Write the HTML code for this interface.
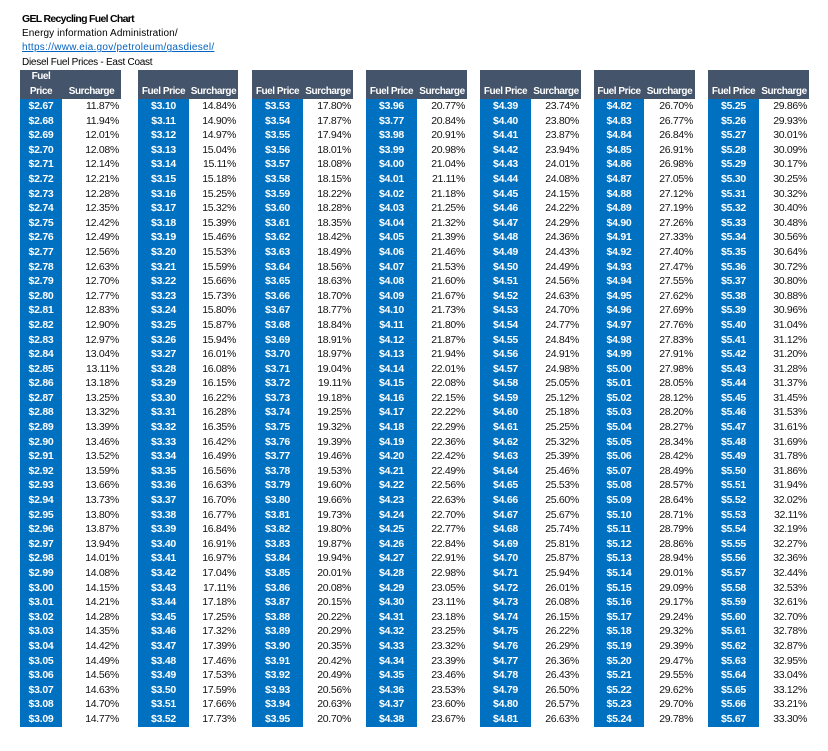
<!DOCTYPE html>
<html><head><meta charset="utf-8"><style>
*{margin:0;padding:0;box-sizing:border-box}
html,body{width:828px;height:751px;background:#fff;overflow:hidden}
body{position:relative;font-family:"Liberation Sans",sans-serif;color:#000}
.t{position:absolute;left:22px;top:12px;font-size:10px;line-height:14.6px;white-space:nowrap}
.t b{letter-spacing:-0.7px;display:block;font-size:10.5px}
.t a{color:#0563C1;text-decoration:underline;letter-spacing:0.28px;display:block}
.blk{position:absolute;top:70px}
.col{position:absolute;top:0}
.hd{height:29px;background:#44546A;color:#fff;font-weight:bold;font-size:10px;line-height:14.5px;text-align:center;letter-spacing:-0.45px;white-space:nowrap}
.p{background:#0070C0;color:#fff;font-weight:bold;font-size:10.5px;letter-spacing:-0.25px;line-height:14.6px;text-align:center;white-space:nowrap}
.s{color:#111;font-size:10.5px;letter-spacing:-0.3px;line-height:14.6px;text-align:right;padding-right:2px;white-space:nowrap}
</style></head><body>
<div class="t"><b>GEL Recycling Fuel Chart</b><div style="letter-spacing:0.1px">Energy information Administration/</div><a>https://www.eia.gov/petroleum/gasdiesel/</a><div style="letter-spacing:-0.26px">Diesel Fuel Prices - East Coast</div></div>

<div class="blk" style="left:20px">
<div class="col" style="left:0;width:42px"><div class="hd">Fuel<br>Price</div><div class="p">$2.67<br>$2.68<br>$2.69<br>$2.70<br>$2.71<br>$2.72<br>$2.73<br>$2.74<br>$2.75<br>$2.76<br>$2.77<br>$2.78<br>$2.79<br>$2.80<br>$2.81<br>$2.82<br>$2.83<br>$2.84<br>$2.85<br>$2.86<br>$2.87<br>$2.88<br>$2.89<br>$2.90<br>$2.91<br>$2.92<br>$2.93<br>$2.94<br>$2.95<br>$2.96<br>$2.97<br>$2.98<br>$2.99<br>$3.00<br>$3.01<br>$3.02<br>$3.03<br>$3.04<br>$3.05<br>$3.06<br>$3.07<br>$3.08<br>$3.09</div></div>
<div class="col" style="left:42px;width:59px"><div class="hd">&nbsp;<br>Surcharge</div><div class="s">11.87%<br>11.94%<br>12.01%<br>12.08%<br>12.14%<br>12.21%<br>12.28%<br>12.35%<br>12.42%<br>12.49%<br>12.56%<br>12.63%<br>12.70%<br>12.77%<br>12.83%<br>12.90%<br>12.97%<br>13.04%<br>13.11%<br>13.18%<br>13.25%<br>13.32%<br>13.39%<br>13.46%<br>13.52%<br>13.59%<br>13.66%<br>13.73%<br>13.80%<br>13.87%<br>13.94%<br>14.01%<br>14.08%<br>14.15%<br>14.21%<br>14.28%<br>14.35%<br>14.42%<br>14.49%<br>14.56%<br>14.63%<br>14.70%<br>14.77%</div></div>
</div>

<div class="blk" style="left:138px">
<div class="col" style="left:0;width:51px"><div class="hd">&nbsp;<br>Fuel Price</div><div class="p">$3.10<br>$3.11<br>$3.12<br>$3.13<br>$3.14<br>$3.15<br>$3.16<br>$3.17<br>$3.18<br>$3.19<br>$3.20<br>$3.21<br>$3.22<br>$3.23<br>$3.24<br>$3.25<br>$3.26<br>$3.27<br>$3.28<br>$3.29<br>$3.30<br>$3.31<br>$3.32<br>$3.33<br>$3.34<br>$3.35<br>$3.36<br>$3.37<br>$3.38<br>$3.39<br>$3.40<br>$3.41<br>$3.42<br>$3.43<br>$3.44<br>$3.45<br>$3.46<br>$3.47<br>$3.48<br>$3.49<br>$3.50<br>$3.51<br>$3.52</div></div>
<div class="col" style="left:51px;width:49px"><div class="hd">&nbsp;<br>Surcharge</div><div class="s">14.84%<br>14.90%<br>14.97%<br>15.04%<br>15.11%<br>15.18%<br>15.25%<br>15.32%<br>15.39%<br>15.46%<br>15.53%<br>15.59%<br>15.66%<br>15.73%<br>15.80%<br>15.87%<br>15.94%<br>16.01%<br>16.08%<br>16.15%<br>16.22%<br>16.28%<br>16.35%<br>16.42%<br>16.49%<br>16.56%<br>16.63%<br>16.70%<br>16.77%<br>16.84%<br>16.91%<br>16.97%<br>17.04%<br>17.11%<br>17.18%<br>17.25%<br>17.32%<br>17.39%<br>17.46%<br>17.53%<br>17.59%<br>17.66%<br>17.73%</div></div>
</div>

<div class="blk" style="left:252px">
<div class="col" style="left:0;width:51px"><div class="hd">&nbsp;<br>Fuel Price</div><div class="p">$3.53<br>$3.54<br>$3.55<br>$3.56<br>$3.57<br>$3.58<br>$3.59<br>$3.60<br>$3.61<br>$3.62<br>$3.63<br>$3.64<br>$3.65<br>$3.66<br>$3.67<br>$3.68<br>$3.69<br>$3.70<br>$3.71<br>$3.72<br>$3.73<br>$3.74<br>$3.75<br>$3.76<br>$3.77<br>$3.78<br>$3.79<br>$3.80<br>$3.81<br>$3.82<br>$3.83<br>$3.84<br>$3.85<br>$3.86<br>$3.87<br>$3.88<br>$3.89<br>$3.90<br>$3.91<br>$3.92<br>$3.93<br>$3.94<br>$3.95</div></div>
<div class="col" style="left:51px;width:50px"><div class="hd">&nbsp;<br>Surcharge</div><div class="s">17.80%<br>17.87%<br>17.94%<br>18.01%<br>18.08%<br>18.15%<br>18.22%<br>18.28%<br>18.35%<br>18.42%<br>18.49%<br>18.56%<br>18.63%<br>18.70%<br>18.77%<br>18.84%<br>18.91%<br>18.97%<br>19.04%<br>19.11%<br>19.18%<br>19.25%<br>19.32%<br>19.39%<br>19.46%<br>19.53%<br>19.60%<br>19.66%<br>19.73%<br>19.80%<br>19.87%<br>19.94%<br>20.01%<br>20.08%<br>20.15%<br>20.22%<br>20.29%<br>20.35%<br>20.42%<br>20.49%<br>20.56%<br>20.63%<br>20.70%</div></div>
</div>

<div class="blk" style="left:366px">
<div class="col" style="left:0;width:51px"><div class="hd">&nbsp;<br>Fuel Price</div><div class="p">$3.96<br>$3.77<br>$3.98<br>$3.99<br>$4.00<br>$4.01<br>$4.02<br>$4.03<br>$4.04<br>$4.05<br>$4.06<br>$4.07<br>$4.08<br>$4.09<br>$4.10<br>$4.11<br>$4.12<br>$4.13<br>$4.14<br>$4.15<br>$4.16<br>$4.17<br>$4.18<br>$4.19<br>$4.20<br>$4.21<br>$4.22<br>$4.23<br>$4.24<br>$4.25<br>$4.26<br>$4.27<br>$4.28<br>$4.29<br>$4.30<br>$4.31<br>$4.32<br>$4.33<br>$4.34<br>$4.35<br>$4.36<br>$4.37<br>$4.38</div></div>
<div class="col" style="left:51px;width:50px"><div class="hd">&nbsp;<br>Surcharge</div><div class="s">20.77%<br>20.84%<br>20.91%<br>20.98%<br>21.04%<br>21.11%<br>21.18%<br>21.25%<br>21.32%<br>21.39%<br>21.46%<br>21.53%<br>21.60%<br>21.67%<br>21.73%<br>21.80%<br>21.87%<br>21.94%<br>22.01%<br>22.08%<br>22.15%<br>22.22%<br>22.29%<br>22.36%<br>22.42%<br>22.49%<br>22.56%<br>22.63%<br>22.70%<br>22.77%<br>22.84%<br>22.91%<br>22.98%<br>23.05%<br>23.11%<br>23.18%<br>23.25%<br>23.32%<br>23.39%<br>23.46%<br>23.53%<br>23.60%<br>23.67%</div></div>
</div>

<div class="blk" style="left:480px">
<div class="col" style="left:0;width:51px"><div class="hd">&nbsp;<br>Fuel Price</div><div class="p">$4.39<br>$4.40<br>$4.41<br>$4.42<br>$4.43<br>$4.44<br>$4.45<br>$4.46<br>$4.47<br>$4.48<br>$4.49<br>$4.50<br>$4.51<br>$4.52<br>$4.53<br>$4.54<br>$4.55<br>$4.56<br>$4.57<br>$4.58<br>$4.59<br>$4.60<br>$4.61<br>$4.62<br>$4.63<br>$4.64<br>$4.65<br>$4.66<br>$4.67<br>$4.68<br>$4.69<br>$4.70<br>$4.71<br>$4.72<br>$4.73<br>$4.74<br>$4.75<br>$4.76<br>$4.77<br>$4.78<br>$4.79<br>$4.80<br>$4.81</div></div>
<div class="col" style="left:51px;width:50px"><div class="hd">&nbsp;<br>Surcharge</div><div class="s">23.74%<br>23.80%<br>23.87%<br>23.94%<br>24.01%<br>24.08%<br>24.15%<br>24.22%<br>24.29%<br>24.36%<br>24.43%<br>24.49%<br>24.56%<br>24.63%<br>24.70%<br>24.77%<br>24.84%<br>24.91%<br>24.98%<br>25.05%<br>25.12%<br>25.18%<br>25.25%<br>25.32%<br>25.39%<br>25.46%<br>25.53%<br>25.60%<br>25.67%<br>25.74%<br>25.81%<br>25.87%<br>25.94%<br>26.01%<br>26.08%<br>26.15%<br>26.22%<br>26.29%<br>26.36%<br>26.43%<br>26.50%<br>26.57%<br>26.63%</div></div>
</div>

<div class="blk" style="left:594px">
<div class="col" style="left:0;width:50px"><div class="hd">&nbsp;<br>Fuel Price</div><div class="p">$4.82<br>$4.83<br>$4.84<br>$4.85<br>$4.86<br>$4.87<br>$4.88<br>$4.89<br>$4.90<br>$4.91<br>$4.92<br>$4.93<br>$4.94<br>$4.95<br>$4.96<br>$4.97<br>$4.98<br>$4.99<br>$5.00<br>$5.01<br>$5.02<br>$5.03<br>$5.04<br>$5.05<br>$5.06<br>$5.07<br>$5.08<br>$5.09<br>$5.10<br>$5.11<br>$5.12<br>$5.13<br>$5.14<br>$5.15<br>$5.16<br>$5.17<br>$5.18<br>$5.19<br>$5.20<br>$5.21<br>$5.22<br>$5.23<br>$5.24</div></div>
<div class="col" style="left:50px;width:51px"><div class="hd">&nbsp;<br>Surcharge</div><div class="s">26.70%<br>26.77%<br>26.84%<br>26.91%<br>26.98%<br>27.05%<br>27.12%<br>27.19%<br>27.26%<br>27.33%<br>27.40%<br>27.47%<br>27.55%<br>27.62%<br>27.69%<br>27.76%<br>27.83%<br>27.91%<br>27.98%<br>28.05%<br>28.12%<br>28.20%<br>28.27%<br>28.34%<br>28.42%<br>28.49%<br>28.57%<br>28.64%<br>28.71%<br>28.79%<br>28.86%<br>28.94%<br>29.01%<br>29.09%<br>29.17%<br>29.24%<br>29.32%<br>29.39%<br>29.47%<br>29.55%<br>29.62%<br>29.70%<br>29.78%</div></div>
</div>

<div class="blk" style="left:708px">
<div class="col" style="left:0;width:51px"><div class="hd">&nbsp;<br>Fuel Price</div><div class="p">$5.25<br>$5.26<br>$5.27<br>$5.28<br>$5.29<br>$5.30<br>$5.31<br>$5.32<br>$5.33<br>$5.34<br>$5.35<br>$5.36<br>$5.37<br>$5.38<br>$5.39<br>$5.40<br>$5.41<br>$5.42<br>$5.43<br>$5.44<br>$5.45<br>$5.46<br>$5.47<br>$5.48<br>$5.49<br>$5.50<br>$5.51<br>$5.52<br>$5.53<br>$5.54<br>$5.55<br>$5.56<br>$5.57<br>$5.58<br>$5.59<br>$5.60<br>$5.61<br>$5.62<br>$5.63<br>$5.64<br>$5.65<br>$5.66<br>$5.67</div></div>
<div class="col" style="left:51px;width:50px"><div class="hd">&nbsp;<br>Surcharge</div><div class="s">29.86%<br>29.93%<br>30.01%<br>30.09%<br>30.17%<br>30.25%<br>30.32%<br>30.40%<br>30.48%<br>30.56%<br>30.64%<br>30.72%<br>30.80%<br>30.88%<br>30.96%<br>31.04%<br>31.12%<br>31.20%<br>31.28%<br>31.37%<br>31.45%<br>31.53%<br>31.61%<br>31.69%<br>31.78%<br>31.86%<br>31.94%<br>32.02%<br>32.11%<br>32.19%<br>32.27%<br>32.36%<br>32.44%<br>32.53%<br>32.61%<br>32.70%<br>32.78%<br>32.87%<br>32.95%<br>33.04%<br>33.12%<br>33.21%<br>33.30%</div></div>
</div>
</body></html>
